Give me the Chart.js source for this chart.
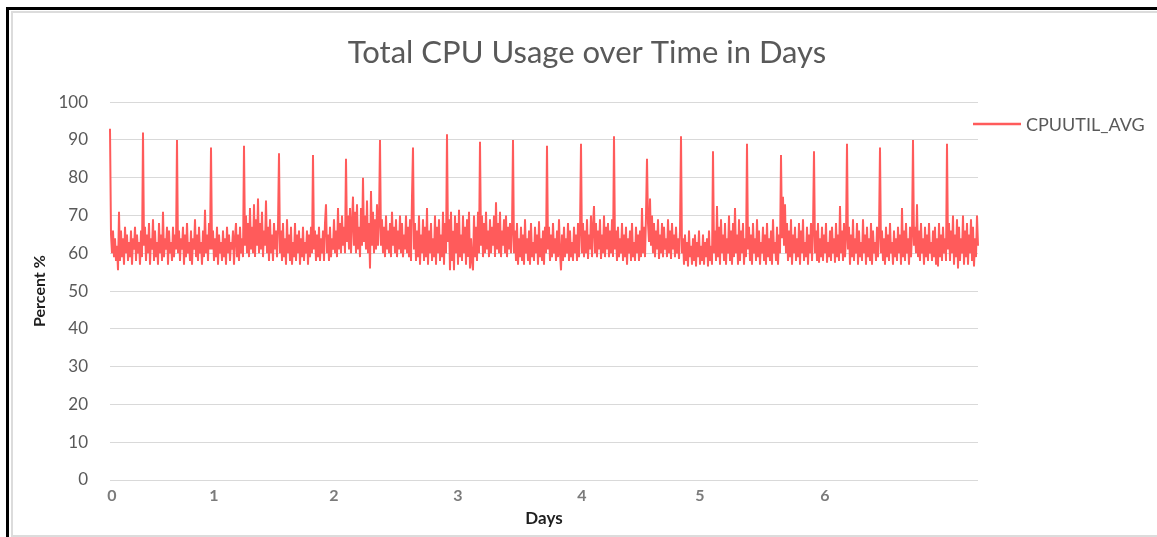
<!DOCTYPE html>
<html>
<head>
<meta charset="utf-8">
<title>Total CPU Usage over Time in Days</title>
<script src="https://cdn.jsdelivr.net/npm/chart.js@4/dist/chart.umd.min.js"></script>
<style>
  html, body { margin:0; padding:0; background:#fff; }
  #wrap { position:relative; width:1157px; height:537px; overflow:hidden; }
  #frame-black { position:absolute; left:6px; top:7px; right:-10px; bottom:-10px; border-left:3px solid #000; border-top:3px solid #000; }
  #frame-chart { position:absolute; left:11px; top:11px; right:-10px; height:522px; border:2px solid #dcdcdc; border-right:none; }
  canvas { position:absolute; left:0; top:0; }
</style>
</head>
<body>
<div id="wrap">
  <div id="frame-black"></div>
  <div id="frame-chart"></div>
  <canvas id="cpuChart" width="1157" height="537"></canvas>
</div>
<script>
// x axis: day numbers shown at these sample positions
const dayTicks = ['0', '1', '2', '3', '4', '5', '6'];
const dayTickIndex = [2, 104, 224, 348, 472, 590, 715];

// CPUUTIL_AVG samples (%), one row per spike cycle
const cpuAvg = [
  93, 65, 60, 66, 59, 64, 58, 62, 55.5, 71, 58, 66, 59, 64, 57, 67, 60, 65, 58, 63, 59, 66, 57, 64, 61, 67, 58, 65, 60, 63, 57, 66, 59,
  92, 62, 67, 58, 65, 60, 68, 57, 64, 61, 69, 58, 66, 59, 63, 57, 68, 60, 65, 58, 71, 59, 64, 61, 67, 57, 66, 60, 63, 58, 67, 59, 65, 61,
  90, 60, 66, 58, 64, 61, 67, 57, 65, 59, 68, 60, 63, 58, 66, 57, 64, 61, 69, 59, 65, 58, 67, 60, 63, 57, 66, 59, 71.5, 60, 65, 58, 68, 61,
  88, 61, 66, 58, 64, 59, 67, 57, 65, 60, 63, 58, 66, 59, 64, 57, 67, 60, 65, 58, 63, 61, 66, 57, 64, 68, 59, 65, 58, 67, 60, 64, 59,
  88.5, 62, 70, 60, 68, 59, 72, 61, 67, 60, 73, 59, 69, 62, 74.5, 60, 68, 61, 71, 59, 66, 62, 74, 60, 67, 58, 69, 60, 65, 58, 68, 61, 66, 59, 67,
  86.5, 60, 66, 58, 68, 59, 64, 57, 69, 60, 65, 58, 67, 57, 63, 59, 68, 58, 65, 60, 66, 57, 64, 59, 67, 58, 63, 60, 66, 57, 65, 59, 67, 60,
  86, 61, 66, 58, 65, 59, 67, 58, 64, 60, 66, 58, 68, 73, 60, 65, 58, 67, 59, 64, 61, 69, 60, 66, 59, 72, 61, 68, 60, 70, 62, 67, 60,
  85, 63, 70, 61, 72, 60, 68, 75, 62, 71, 60, 73, 61, 67, 59, 72, 62, 80, 63, 70, 61, 74, 60, 68, 56, 76.5, 62, 71, 60, 69, 61, 73, 62, 68,
  90, 62, 69, 60, 67, 59, 70, 61, 66, 60, 68, 59, 71, 62, 67, 60, 69, 59, 66, 61, 70, 60, 68, 59, 65, 61, 70, 60, 67, 59, 69, 58, 75,
  88, 61, 68, 58, 66, 59, 70, 57, 65, 60, 69, 58, 67, 59, 72, 57, 66, 60, 68, 58, 64, 59, 70, 57, 67, 60, 69, 58, 65, 59, 71, 57, 68, 60,
  91.5, 63, 69, 55.5, 71, 58, 66, 55.5, 70, 60, 68, 57, 71.5, 59, 65, 58, 70, 60, 67, 57, 69, 59, 71, 56, 64, 58, 55.5, 70, 59, 67, 58, 71, 60,
  89.5, 62, 70, 59, 68, 60, 71, 61, 66, 59, 69, 60, 67, 62, 70, 59, 73.5, 61, 68, 60, 71, 59, 66, 62, 69, 60, 70, 59, 67, 61, 68, 60, 66,
  90, 60, 66, 58, 68, 57, 64, 59, 67, 58, 65, 57, 69, 60, 64, 58, 66, 57, 68, 59, 63, 58, 67, 60, 65, 57, 68.5, 59, 64, 58, 66, 57, 67, 60,
  88.5, 61, 67, 58, 65, 59, 68, 60, 64, 58, 66, 59, 69, 60, 55.5, 65, 58, 67, 59, 64, 60, 68, 58, 66, 59, 63, 58, 67, 60, 65, 58, 68, 59, 66,
  89, 60, 68, 59, 66, 60, 69, 58.5, 65, 61, 70, 59, 67, 72.5, 60, 68, 59, 66, 61, 69, 58.5, 65, 60, 70, 59, 67, 61, 68, 59, 66, 60, 69, 59,
  91, 61, 66, 58, 67, 59, 64, 60, 68, 58, 65, 59, 67, 57, 64, 60, 66, 58, 68, 59, 63, 58, 67, 60, 65, 58, 66, 59, 72, 60, 67, 59, 70,
  85, 68, 63, 74.5, 62, 70, 60, 68, 59, 66, 61, 69, 58.5, 65, 60, 68, 59, 67, 61, 64, 59, 69, 60, 66, 58.5, 68, 61, 65, 59, 67, 60, 64, 58.5, 66,
  91, 60, 64, 57, 65, 58, 63, 56.5, 66, 59, 62, 57, 64, 58, 65, 56.5, 63, 59, 66, 57, 62, 58, 65, 57, 63, 59, 64, 56.5, 66, 58, 62, 57,
  87, 60, 66, 58, 72.5, 59, 67, 57, 69, 60, 65, 58, 68, 57, 64, 60, 70, 58, 66, 57, 68, 59, 72, 60, 65, 57, 69, 58, 66, 60, 68, 57, 64, 59,
  89, 61, 67, 58, 65, 57, 68, 60, 64, 58, 69, 59, 66, 57, 63, 60, 67, 58, 65, 57, 68, 59, 64, 58, 66, 57, 69, 60, 63, 58, 67, 57, 65, 60,
  86, 64, 75, 62, 73, 60, 68, 58, 66, 59, 69, 57, 65, 60, 67, 58, 64, 59, 68, 57, 66, 60, 69, 58, 63, 59, 67, 57, 65, 60, 68, 58, 66,
  87, 60, 66, 58, 68, 57.5, 64, 59, 67, 58, 65, 60, 68, 57.5, 63, 59, 66, 58, 67, 60, 64, 57.5, 68, 59, 65, 58, 72.5, 60, 66, 58, 68, 59, 64,
  89, 61, 67, 57, 65, 59, 69, 58, 64, 60, 68, 57, 66, 59, 63, 58, 69, 60, 65, 57, 67, 59, 64, 58, 68, 57, 66, 60, 63, 58, 67, 59, 65,
  88, 60, 66, 58, 64, 57, 67, 59, 65, 58, 68, 60, 63, 57, 66, 59, 64, 58, 67, 60, 65, 57, 72, 59, 66, 58, 68, 60, 64, 57, 67, 59, 65,
  90, 62, 67, 60, 73, 59, 66, 58, 68, 60, 64, 57, 67, 59, 65, 58, 68, 60, 63, 58, 66, 59, 67, 57, 64, 56.5, 68, 59, 65, 58, 67, 60, 64, 58,
  89, 61, 68, 58, 66, 60, 70, 57, 65, 59, 69, 56, 67, 58, 64, 60, 70, 57, 66, 59, 68, 57, 65, 60, 69, 58, 67, 56.5, 64, 59, 70, 62
];

const yTicks = [0, 10, 20, 30, 40, 50, 60, 70, 80, 90, 100];

const lineColor = '#ff5b5b';
const gray = '#595959';

// category labels: blank except where a day number is shown
const labels = cpuAvg.map(function(){ return ''; });
dayTickIndex.forEach(function(idx, i){ labels[idx] = dayTicks[i]; });

// legend drawn by hand, Excel puts it partly over the plot edge
const sideLegend = {
  id: 'sideLegend',
  afterDraw(chart){
    const ctx = chart.ctx;
    ctx.save();
    ctx.strokeStyle = lineColor;
    ctx.lineWidth = 2.5;
    ctx.beginPath();
    ctx.moveTo(973, 124);
    ctx.lineTo(1021, 124);
    ctx.stroke();
    ctx.fillStyle = gray;
    ctx.font = '18px Lato';
    ctx.textBaseline = 'middle';
    ctx.fillText(chart.data.datasets[0].label, 1026, 125);
    ctx.restore();
  }
};

new Chart(document.getElementById('cpuChart'), {
  type: 'line',
  data: {
    labels: labels,
    datasets: [{
      label: 'CPUUTIL_AVG',
      data: cpuAvg,
      borderColor: lineColor,
      borderWidth: 2,
      pointRadius: 0,
      tension: 0,
      fill: false
    }]
  },
  options: {
    responsive: false,
    animation: false,
    layout: { padding: { left: 17, right: 0, top: 0, bottom: 4 } },
    plugins: {
      legend: { display: false },
      tooltip: { enabled: false },
      title: {
        display: true,
        text: 'Total CPU Usage over Time in Days',
        color: gray,
        font: { family: 'Lato', size: 31, weight: 'normal', lineHeight: 1.2 },
        padding: { top: 34, bottom: 31 }
      }
    },
    scales: {
      x: {
        type: 'category',
        grid: { display: false },
        border: { display: false },
        ticks: {
          autoSkip: false,
          maxRotation: 0,
          minRotation: 0,
          padding: -2,
          color: '#7b7b7b',
          font: { family: 'Lato', size: 16, weight: 'bold' }
        },
        title: {
          display: true,
          text: 'Days',
          color: '#1f1f1f',
          font: { family: 'Lato', size: 17, weight: 'bold' },
          padding: { top: 0, bottom: 4 }
        },
        afterFit: function(s){ s.height = 53; }
      },
      y: {
        min: 0,
        max: 100,
        afterBuildTicks: function(s){ s.ticks = yTicks.map(function(v){ return { value: v }; }); },
        grid: { color: '#d9d9d9', lineWidth: 1, drawTicks: false },
        border: { display: false },
        ticks: {
          padding: 22,
          color: gray,
          font: { family: 'Lato', size: 17 }
        },
        title: {
          display: true,
          text: 'Percent %',
          color: '#1f1f1f',
          font: { family: 'Lato', size: 16, weight: 'bold' },
          padding: { top: 13, bottom: 0 }
        },
        afterFit: function(s){ s.width = 93; }
      },
      // empty right-hand axis: keeps room for the legend so the title stays centred on the whole chart
      legendSpace: {
        position: 'right',
        display: true,
        grid: { display: false },
        border: { display: false },
        ticks: { display: false },
        afterFit: function(s){ s.width = 179; }
      }
    }
  },
  plugins: [sideLegend]
});
</script>
</body>
</html>
